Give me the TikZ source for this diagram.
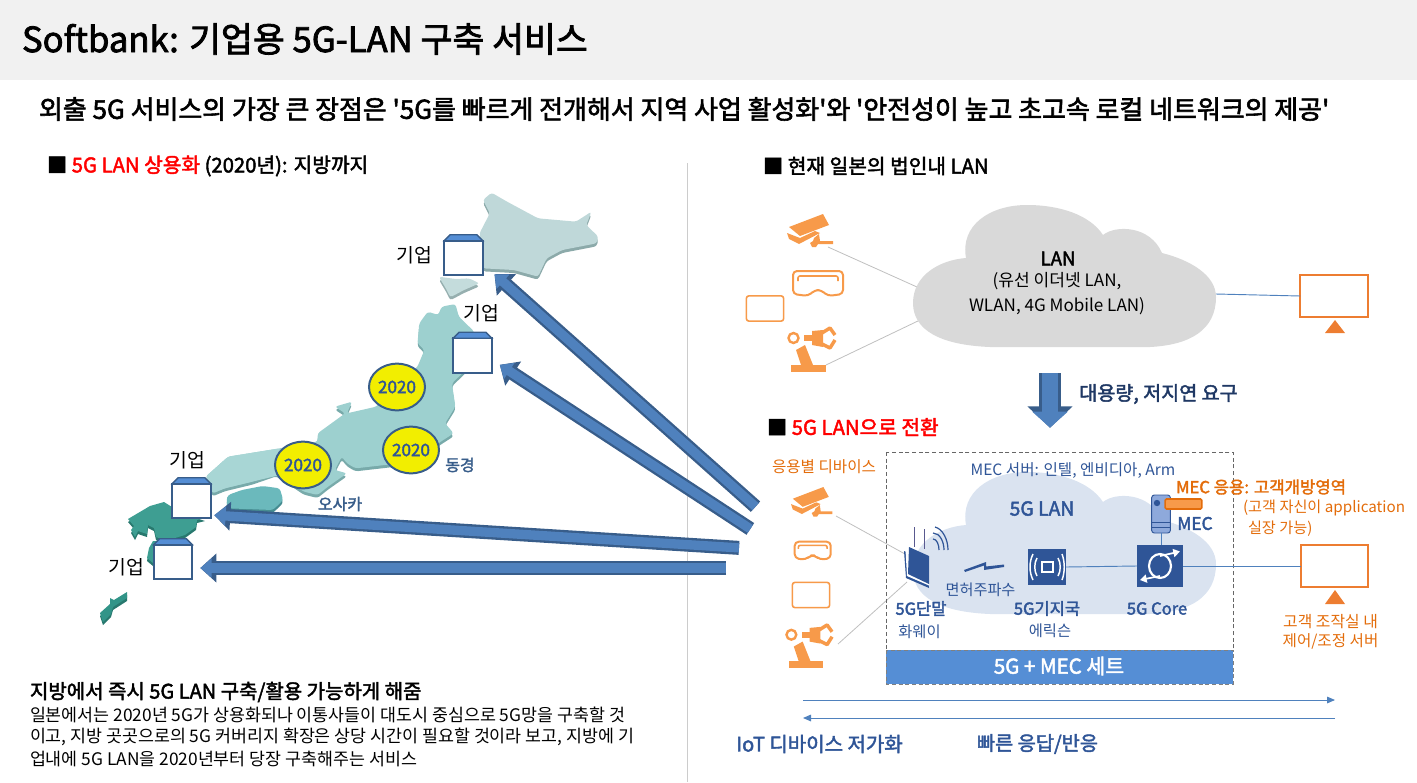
\documentclass[tikz,border=0pt]{standalone}
\usepackage{fontspec}
\setmainfont{Noto Sans CJK KR}
\newfontfamily\semib[FakeBold=2.2]{Noto Sans CJK KR}
\usetikzlibrary{arrows.meta,calc,shapes.geometric}
\definecolor{navy}{HTML}{1F3864}
\definecolor{navyb}{HTML}{2F5597}
\definecolor{dkblue}{HTML}{385D8A}
\definecolor{midblue}{HTML}{4F81BD}
\definecolor{band}{HTML}{558ED5}
\definecolor{org}{HTML}{ED7D31}
\definecolor{orgt}{HTML}{E36C0A}
\definecolor{orgi}{HTML}{F79A4A}
\definecolor{cgrey}{HTML}{D9D9D9}
\definecolor{cblue}{HTML}{DAE3F0}
\definecolor{yel}{HTML}{F2EE00}
\newcommand\fs[1]{\fontsize{#1}{#1}\selectfont}
\newcommand\camicon[3]{\begin{scope}[shift={(#1,#2)},scale=#3]
 \fill[orgi] (2,13)--(36,0)--(42,11)--(13,22)--cycle;
 \fill[orgi] (0,19)--(13,24)--(28,17)--(33,19)--(12,30)--(2,25)--cycle;
 \fill[orgi] (27,24)--(32,20)--(33,27)--(46,27)--(46,30)--(31,30)--(29,33)--(25,33)--(23,29)--(26,27)--cycle;
\end{scope}}
\newcommand\vricon[3]{\begin{scope}[shift={(#1,#2)},scale=#3]
 \draw[orgi,line width=1.5pt,rounded corners=3pt,line join=round] (1,1)--(51,1)--(51,24)--(36,26)--(29,20)--(23,20)--(16,26)--(1,24)--cycle;
 \draw[orgi,line width=1.2pt,rounded corners=1.5pt] (6,11)--(6,6)--(46,6)--(46,11);
\end{scope}}
\newcommand\roboticon[3]{\begin{scope}[shift={(#1,#2)},scale=#3]
 \fill[orgi] (4,40) rectangle (39,47);
 \fill[orgi] (9,25)--(18,20)--(26,40)--(14,40)--cycle;
 \draw[orgi,line width=1.8pt] (6.5,13) circle[radius=5];
 \fill[orgi] (17,10) rectangle (26,16);
 \fill[orgi] (25,6)--(36,5)--(36,22)--(25,20)--cycle;
 \draw[orgi,line width=2.6pt,line join=round] (35,8)--(43,3)--(48,10);
 \draw[orgi,line width=2.6pt,line join=round] (35,19)--(43,23)--(48,15);
\end{scope}}
\newcommand\cloudshape[3]{\fill[#3,shift={(#1,#2)}] (913,303) .. controls (913,275) and (940,260) .. (966,258) .. controls (960,225) and (990,205) .. (1027,205) .. controls (1060,205) and (1090,215) .. (1103,235) .. controls (1115,225) and (1150,225) .. (1162,253) .. controls (1190,260) and (1216,275) .. (1216,297) .. controls (1216,330) and (1190,345) .. (1150,347) -- (990,347) .. controls (940,345) and (913,330) .. (913,303) -- cycle;}
\newcommand\kiup[3]{\node[kbox] (#1) at (#2,#3) {};
 \draw[kedge,fill=band] (#1.north west)--($(#1.north west)+(6,-6)$)--($(#1.north east)+(-6,-6)$)--(#1.north east)--cycle;}
\tikzset{
 kbox/.style={draw=dkblue,fill=white,line width=1.5pt,minimum width=29pt,minimum height=26pt,inner sep=0pt,outer sep=0pt},
 kedge/.style={draw=dkblue,line width=1pt},
 yearmark/.style={ellipse,draw=dkblue,fill=yel,line width=1.5pt,minimum width=42pt,minimum height=35pt,inner sep=0pt,text=navyb,font=\fs{12.8}\semib},
 monbox/.style={draw=org,fill=white,line width=1.5pt,minimum width=50.5pt,minimum height=31pt,inner sep=0pt,outer sep=0pt},
 tabbox/.style={draw=orgi,fill=white,line width=1.2pt,rounded corners=2pt,minimum width=28pt,minimum height=19pt,inner sep=0pt},
 squarebox/.style={fill=navyb,inner sep=0pt,outer sep=0pt},
 thinlink/.style={draw=black!25,line width=.6pt},
 bluelink/.style={draw=midblue,line width=.7pt},
 flowline/.style={draw=midblue,line width=.7pt,-{Triangle[length=6pt,width=5pt]}},
 bigarrow/.style={preaction={draw=dkblue,line width=10.5pt,-{Triangle[length=12pt,width=21pt]}},draw=midblue,line width=7pt,shorten <=1.5pt,shorten >=2.5pt,-{Triangle[length=8.5pt,width=14pt]}},
 lab/.style={inner sep=0pt,outer sep=0pt},
}
\begin{document}
\begin{tikzpicture}[x=.75pt,y=-.75pt]
\useasboundingbox (0,0) rectangle (1417,782);
\fill[black!5.5] (0,0) rectangle (1417,80);
\node[lab,anchor=west,font=\fs{26}\semib] (title) at (22,39) {Softbank: 기업용 5G-LAN 구축 서비스};
\node[lab,anchor=west,font=\fs{19.46}\semib] (sub) at (39,109) {외출 5G 서비스의 가장 큰 장점은 '5G를 빠르게 전개해서 지역 사업 활성화'와 '안전성이 높고 초고속 로컬 네트워크의 제공'};
\draw[black!20,line width=.6pt] (687,163)--(687,782);
\node[lab,anchor=west,font=\fs{15.2}\semib] (h1) at (47,166) {■ \textcolor{red}{5G LAN 상용화} (2020년): 지방까지};
\node[lab,anchor=west,font=\fs{15.2}\semib] (h2) at (763,166) {■ 현재 일본의 법인내 LAN};
\node[lab,anchor=west,font=\fs{15.2}\semib] (h3) at (767,427) {■ \textcolor{red}{5G LAN으로 전환}};
% map
\begin{scope}[shift={(80,180)},x=.2583pt,y=-.25pt]
 \tikzset{land/.style={rounded corners=2pt}}
 \def\hokk{(1170,60)--(1195,38)--(1240,65)--(1330,115)--(1440,125)--(1485,95)--(1470,135)--(1505,170)--(1500,190)--(1400,210)--(1355,235)--(1330,290)--(1260,270)--(1170,265)--(1160,160)--(1190,100)--cycle}
 \def\osh{(1042,290)--(1090,297)--(1130,295)--(1160,310)--(1115,330)--(1075,352)--(1065,330)--cycle}
 \def\hons{(1010,395)--(1040,405)--(1050,380)--(1090,372)--(1100,410)--(1145,455)--(1130,560)--(1080,610)--(1090,680)--(1060,730)--(1085,760)--(1040,790)--(1000,840)--(885,855)--(800,865)--(775,850)--(760,830)--(740,870)--(775,880)--(720,920)--(690,945)--(650,935)--(570,880)--(500,905)--(420,925)--(385,940)--(365,890)--(430,830)--(580,805)--(690,785)--(690,760)--(770,700)--(740,680)--(790,665)--(775,700)--(860,680)--(980,560)--(1000,510)--(980,490)--(985,430)--cycle}
 \def\shik{(430,945)--(470,930)--(530,918)--(580,925)--(590,960)--(560,990)--(430,985)--(425,960)--cycle}
 \fill[land,fill={rgb,255:red,140;green,170;blue,170}] [shift={(0,9)}] \hokk;
 \fill[land,fill={rgb,255:red,150;green,175;blue,175}] [shift={(0,9)}] \osh;
 \fill[land,fill={rgb,255:red,120;green,170;blue,170}] [shift={(0,9)}] \hons;
 \fill[land,fill={rgb,255:red,70;green,140;blue,145}] [shift={(0,9)}] \shik;
 \fill[land,fill={rgb,255:red,191;green,216;blue,217}] \hokk;
 \fill[land,fill={rgb,255:red,196;green,220;blue,220}] \osh;
 \fill[land,fill={rgb,255:red,157;green,208;blue,207}] \hons;
 \fill[land,fill={rgb,255:red,168;green,214;blue,213}] (365,890)--(430,830)--(580,805)--(600,880)--(500,905)--(420,925)--(385,940)--cycle;
 \fill[land,fill={rgb,255:red,107;green,185;blue,188}] \shik;
\end{scope}
\begin{scope}
 \def\kyu{(128,519)--(150,506)--(164,502)--(172,507)--(205,518)--(197,520)--(196,527)--(185,535)--(165,541)--(153,541)--(149,548)--(147,558)--(153,563)--(165,563)--(165,540)--(156,537)--(154,528)--(148,525)--(147,534)--(138,531)--(135,537)--(131,530)--(134,526)--cycle}
 \def\oki{(100,613)--(110,604)--(110,598)--(114,600)--(127,592)--(127,598)--(113,607)--(111,614)--(103,622)--cycle}
 \fill[fill={rgb,255:red,40;green,120;blue,110}] [shift={(0,3)}] \kyu;
 \fill[fill={rgb,255:red,40;green,120;blue,110}] [shift={(0,3)}] \oki;
 \fill[fill={rgb,255:red,62;green,158;blue,146}] \kyu;
 \fill[fill={rgb,255:red,50;green,148;blue,136}] \oki;
\end{scope}
% company boxes
\kiup{b1}{463.5}{258}
\kiup{b2}{472.5}{355.5}
\kiup{b3}{191.5}{501}
\kiup{b4}{173}{562}
\node[lab,font=\fs{14.5}] (k1) at (414,255.5) {기업};
\node[lab,font=\fs{14.5}] (k2) at (481,313.5) {기업};
\node[lab,font=\fs{14.5}] (k3) at (187,460.5) {기업};
\node[lab,font=\fs{14.5}] (k4) at (126,567.5) {기업};
\node[yearmark] (y1) at (397,387) {2020};
\node[yearmark] (y2) at (411,450) {2020};
\node[yearmark] (y3) at (303,465) {2020};
\node[lab,font=\fs{12}\semib,text=dkblue] (tok) at (460,465) {동경};
\node[lab,font=\fs{12}\semib,text=dkblue] (osa) at (340,504) {오사카};
% big arrows
\coordinate (t1) at (757,508); \coordinate (a1) at (492,272);
\coordinate (t2) at (752,530); \coordinate (a2) at (497,363);
\coordinate (t3) at (741,548); \coordinate (a3) at (211,515);
\coordinate (t4) at (728,568); \coordinate (a4) at (197,568);
\draw[bigarrow] (t1)--(a1);
\draw[bigarrow] (t2)--(a2);
\draw[bigarrow] (t3)--(a3);
\draw[bigarrow] (t4)--(a4);
% bottom-left text
\node[lab,anchor=west,font=\fs{15}\semib] (bl0) at (30,692) {지방에서 즉시 5G LAN 구축/활용 가능하게 해줌};
\node[lab,anchor=west,font=\fs{13}] (bl1) at (30,715) {일본에서는 2020년 5G가 상용화되나 이통사들이 대도시 중심으로 5G망을 구축할 것};
\node[lab,anchor=west,font=\fs{13}] (bl2) at (30,737) {이고, 지방 곳곳으로의 5G 커버리지 확장은 상당 시간이 필요할 것이라 보고, 지방에 기};
\node[lab,anchor=west,font=\fs{13}] (bl3) at (30,759) {업내에 5G LAN을 2020년부터 당장 구축해주는 서비스};
% top LAN
\coordinate (cl1a) at (917,287); \coordinate (cl1b) at (920,320); \coordinate (cl1c) at (1216,294);
\coordinate (cam1p) at (828,247); \coordinate (rob1p) at (826,365);
\draw[thinlink] (cam1p)--(cl1a);
\draw[thinlink] (rob1p)--(cl1b);
\cloudshape{0}{0}{cgrey}
\node[lab,font=\fs{14}\semib] (lan) at (1058,258.5) {LAN};
\node[lab,font=\fs{12.8}] (lan2) at (1057,281.5) {(유선 이더넷 LAN,};
\node[lab,font=\fs{12.8}] (lan3) at (1057,306.5) {WLAN, 4G Mobile LAN)};
\camicon{787}{214}{1}
\vricon{792}{270}{1}
\node[tabbox] (tab1) at (765,308.5) {};
\roboticon{787}{325}{1}
\node[monbox] (mon1) at (1334,296) {};
\draw[bluelink] (cl1c)--(mon1.west);
\fill[org] (1335,320)--(1345,333)--(1325,333)--cycle;
\coordinate (d0) at (1050,371); \coordinate (d1) at (1050,431);
\draw[bigarrow,preaction={draw=dkblue,line width=16pt,-{Triangle[length=16pt,width=33pt]}},line width=12.5pt,-{Triangle[length=12pt,width=26pt]}] (d0)--(d1);
\node[lab,font=\fs{14.7}\semib,text=navy] (req) at (1158.5,394) {대용량, 저지연 요구};
% lower 5G LAN
\coordinate (cam2p) at (836,516); \coordinate (rob2p) at (838,644);
\cloudshape{0}{267}{cblue}
\node[squarebox,minimum width=28.5pt,minimum height=27pt] (bs) at (1047,567) {};
\node[squarebox,minimum width=34.5pt,minimum height=31.5pt] (core) at (1160,566) {};
\draw[thinlink] (cam2p)--(905,554);
\draw[thinlink] (rob2p)--(907,582);
\draw[densely dashed,black!60,line width=.6pt] (886,452) rectangle (1233,650);
\fill[band] (886,650) rectangle (1233,684);
\draw[densely dashed,black!50,line width=.6pt] (886,650) rectangle (1233,684);
\node[lab,font=\fs{15.4}\semib,text=white] (set) at (1059,666) {5G + MEC 세트};
\node[lab,font=\fs{11.7},text=orgt] (dev) at (824,467) {응용별 디바이스};
\camicon{791}{487}{.9}
\vricon{794}{541}{.72}
\node[tabbox] (tab2) at (811,595) {};
\roboticon{785}{622}{.98}
\node[lab,font=\fs{11.7},text=navyb] (srv) at (1073,471) {MEC 서버: 인텔, 엔비디아, Arm};
\node[lab,font=\fs{14.5}\semib,text=navyb] (g5) at (1042,508.5) {5G LAN};
% terminal
\fill[navyb] (904,551)--(928,561)--(929,588)--(906,578)--cycle;
\fill[white] (905.5,550)--(929,560)--(929,585.5)--(907,576)--cycle;
\fill[navyb] (909,547)--(929,556)--(929,584)--(908,574)--cycle;
\draw[black!30!blue!30!gray,line width=.6pt] (914,527)--(914,547);
\draw[black!30!blue!30!gray,line width=.6pt] (924,529)--(924,549);
\draw[navyb,line width=.9pt] (933,539) .. controls (937,539) and (939,545) .. (939,550);
\draw[navyb,line width=.9pt] (933,533) .. controls (940,533) and (944,542) .. (944,550);
\draw[navyb,line width=.9pt] (935,527) .. controls (943,529) and (948,540) .. (948,550);
\fill[navyb] (964,570)--(986,562)--(986,566.5)--(1004,564.5)--(1004,567)--(984,570)--(984,565.5)--(965,572)--cycle;
\node[lab,font=\fs{11.4},text=navyb] (fr) at (980.5,589.5) {면허주파수};
\node[lab,font=\fs{12.4}\semib,text=navyb] (t5) at (921,608.5) {5G단말};
\node[lab,font=\fs{11.5},text=navyb] (hw) at (919.5,631.5) {화웨이};
\node[lab,font=\fs{12.4}\semib,text=navyb] (g5b) at (1047,608.5) {5G기지국};
\node[lab,font=\fs{11.5},text=navyb] (er) at (1050,630.5) {에릭슨};
\node[lab,font=\fs{12.4}\semib,text=navyb] (g5c) at (1157,608.5) {5G Core};
% server
\node[draw=navyb,fill={rgb,255:red,142;green,169;blue,219},line width=.7pt,rounded corners=2pt,minimum width=14pt,minimum height=28.5pt,inner sep=0pt,outer sep=0pt] (mec) at (1161,514) {};
\fill[navyb] (1157,503) circle[radius=3.2];
\draw[navyb,line width=.7pt] (mec.west|-0,522)--(mec.east|-0,522) (mec.west|-0,527)--(mec.east|-0,527);
\node[draw=orgt,fill=orgi,line width=1.2pt,rounded corners=1pt,minimum width=27.5pt,minimum height=7.5pt,inner sep=0pt] (app) at (1183.5,504) {};
\node[lab,font=\fs{13}\semib,text=navyb] (mect) at (1195,523.5) {MEC};
\draw[bluelink] (mec.south)--(mec.south|-core.north);
% links
\node[monbox] (mon2) at (1334.5,566) {};
\draw[bluelink] (bs.east)--(core.west);
\draw[bluelink] (core.east)--(mon2.west);
\fill[org] (1335,590)--(1345,604)--(1325,604)--cycle;
% base station glyph
\draw[white,line width=.9pt] (1042,562) rectangle (1053,572);
\draw[white,line width=1.1pt] (1037,558) .. controls (1034,563) and (1034,571) .. (1037,576);
\draw[white,line width=1.1pt] (1033,554) .. controls (1029,562) and (1029,572) .. (1033,580);
\draw[white,line width=1.1pt] (1058,558) .. controls (1061,563) and (1061,571) .. (1058,576);
\draw[white,line width=1.1pt] (1062,554) .. controls (1065,562) and (1065,572) .. (1062,580);
% core glyph
\draw[white,line width=1.6pt] (1160,566) ellipse[x radius=11,y radius=12];
\draw[white,line width=1.3pt,-{Triangle[length=5pt,width=6pt]}] (1160,556)--(1180,551.5);
\draw[white,line width=1.3pt,-{Triangle[length=5pt,width=6pt]}] (1160,576)--(1140,580);
% right labels
\node[lab,font=\fs{12.5}\semib,text=orgt] (mecapp) at (1261,487) {MEC 응용: 고객개방영역};
\node[lab,anchor=west,font=\fs{11.4},text=orgt] (ap1) at (1243,507.5) {(고객 자신이 application};
\node[lab,anchor=west,font=\fs{11.4},text=orgt] (ap2) at (1248,528.5) {실장 가능)};
\node[lab,font=\fs{11.9},text=orgt] (ctl1) at (1330.5,621.5) {고객 조작실 내};
\node[lab,font=\fs{11.7},text=orgt] (ctl2) at (1330.5,641.5) {제어/조정 서버};
% bottom
\coordinate (f1) at (803,700); \coordinate (f2) at (1335,700);
\coordinate (f3) at (1335,718); \coordinate (f4) at (803,718);
\draw[flowline] (f1)--(f2);
\draw[flowline] (f3)--(f4);
\node[lab,font=\fs{15}\semib,text=navyb] (iot) at (819.5,744) {IoT 디바이스 저가화};
\node[lab,font=\fs{14.8}\semib,text=navyb] (fast) at (1037.5,744) {빠른 응답/반응};
\end{tikzpicture}
\end{document}
